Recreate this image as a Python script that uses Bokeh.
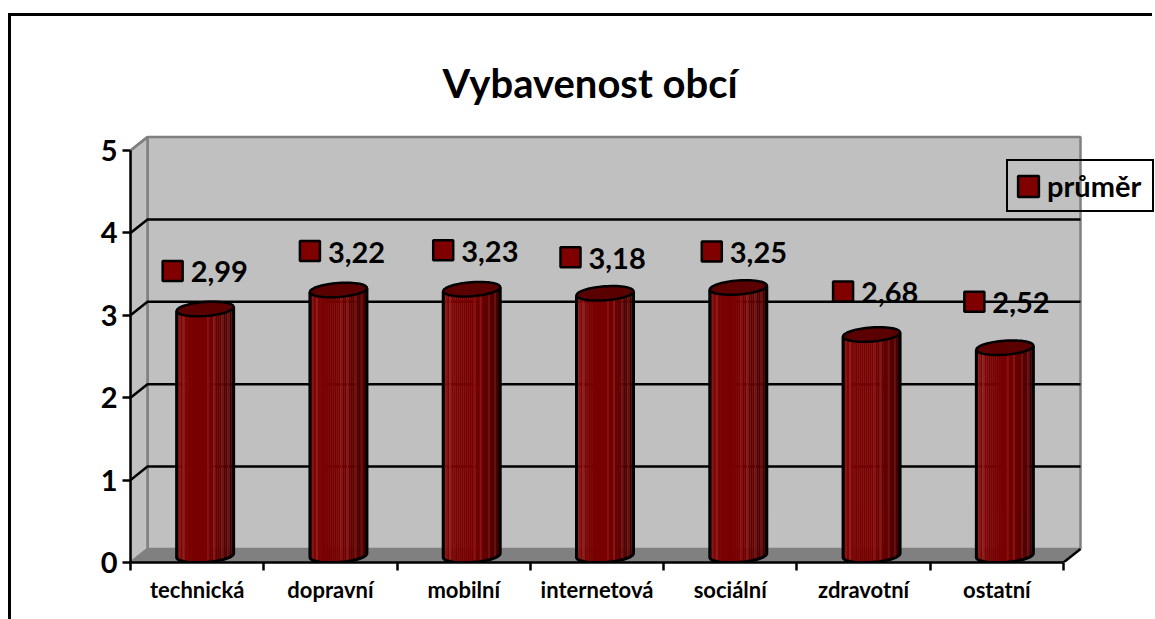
import numpy as np
from bokeh.embed import file_html
from bokeh.resources import INLINE
from bokeh.plotting import figure
from bokeh.models import (ColumnDataSource, FixedTicker, Range1d, Title, Legend, LegendItem)
from bokeh.core.properties import value

categories = ["technická", "dopravní", "mobilní", "internetová", "sociální", "zdravotní", "ostatní"]
prumer = [2.99, 3.22, 3.23, 3.18, 3.25, 2.68, 2.52]
value_labels = ["2,99", "3,22", "3,23", "3,18", "3,25", "2,68", "2,52"]
y_ticks = [0, 1, 2, 3, 4, 5]
series_name = "průměr"
chart_title = "Vybavenost obcí"

# manual data-label offsets from the cylinder top, in pixels
label_dx = [-33, -29, -29, -35, -27, -29, -31]
label_dy = [38, 39, 39, 36, 36, 43, 46]

# layout (pixels)
FRAME_L, FRAME_R, FRAME_T, FRAME_B = 130, 1155, 130, 562
PX_CAT = 933 / 7
PX_UNIT = 82.4
DEPTH_X, DEPTH_Y = 17, 13.5
HALF_W, HALF_H, TILT = 28.5, 7, 2

dx = DEPTH_X / PX_CAT
dy = DEPTH_Y / PX_UNIT
hw = HALF_W / PX_CAT
hh = HALF_H / PX_UNIT
tilt = TILT / PX_UNIT
n = len(categories)
ymax = y_ticks[-1]

p = figure(
    width=1144, height=606, output_backend="svg", toolbar_location=None,
    x_range=Range1d(0, (FRAME_R - FRAME_L) / PX_CAT),
    y_range=Range1d(0, (FRAME_B - FRAME_T) / PX_UNIT),
    min_border_left=119, min_border_right=0, min_border_bottom=60, min_border_top=114,
    outline_line_color=None, background_fill_color=None, border_fill_color=None,
    x_axis_type="linear", y_axis_type="linear",
    styles={"border-top": "3px solid #000", "border-left": "3px solid #000",
            "margin-top": "13px", "margin-left": "8px"},
)
p.grid.visible = False

p.title = Title(text=chart_title, align="left", offset=312, standoff=47,
                text_font="Lato", text_font_size="40px", text_font_style="bold", text_color="#000000")

# walls and floor
WALL, FLOOR, EDGE = "#C0C0C0", "#808080", "#808080"
p.patch([dx, n + dx, n + dx, dx], [dy + ymax, dy + ymax, dy, dy], fill_color=WALL, line_color=EDGE, line_width=2.5)
p.patch([0, dx, dx, 0], [0, dy, dy + ymax, ymax], fill_color=WALL, line_color=EDGE, line_width=2.5)
p.patch([0, dx, n + dx, n], [0, dy, dy, 0], fill_color=FLOOR, line_color=EDGE, line_width=1)

# gridlines: diagonal on the side wall then along the back wall
inner = [t for t in y_ticks if 0 < t < ymax]
p.multi_line([[0, dx, n + dx] for _ in inner], [[t, t + dy, t + dy] for t in inner],
             line_color="#000000", line_width=2.5)
p.line([n, n + dx], [0, dy], line_color="#000000", line_width=2.5)
p.line([0, dx], [ymax, ymax + dy], line_color=EDGE, line_width=2.5)

# cylinders
stripes = ["#6a0000", "#8a1414", "#7c0606", "#941c1c", "#7a0505", "#7c0606", "#780000", "#7a0303",
           "#780000", "#780000", "#780000", "#780000", "#780000", "#780000", "#780000", "#8a1010",
           "#700000", "#6c0000", "#881414", "#680000", "#620000", "#5c0000", "#761010", "#540000",
           "#4e0000", "#6a1010", "#460000", "#400000"]
ns = len(stripes)
edges = np.linspace(-1, 1, ns + 1)
cu = (edges[:-1] + edges[1:]) / 2
sw = 2 * hw / ns

base = dy / 2 + 0.005
sx, sb, st, sc = [], [], [], []
out_x, out_y, top_x, top_y = [], [], [], []
theta = np.linspace(0, 2 * np.pi, 61)
for i, v in enumerate(prumer):
    cx = i + 0.5 + dx / 2 - 0.5 / PX_CAT
    topc = base + v
    for u, c in zip(cu, stripes):
        sx.append(cx + u * hw)
        sb.append(base - hh * np.sqrt(max(1 - u * u, 0)) + tilt * u)
        st.append(topc + tilt * u)
        sc.append(c)
    a = np.linspace(np.pi, 2 * np.pi, 31)
    ox = np.cos(a)
    oy = np.sin(a)
    out_x.append(list(cx + hw * np.r_[-1, ox, 1]))
    out_y.append(list(np.r_[topc - tilt, base + hh * oy + tilt * ox, topc + tilt]))
    top_x.append(list(cx + hw * np.cos(theta)))
    top_y.append(list(topc + hh * np.sin(theta) + tilt * np.cos(theta)))

p.vbar(x=sx, bottom=sb, top=st, width=sw * 1.15, fill_color=sc, line_color=None)
p.multi_line(out_x, out_y, line_color="#000000", line_width=3)
p.patches(top_x, top_y, fill_color="#5a0000", line_color="#000000", line_width=2.5)

# data markers + labels
mx = [i + 0.5 + dx / 2 + d / PX_CAT for i, d in enumerate(label_dx)]
my = [base + v + d / PX_UNIT for v, d in zip(prumer, label_dy)]
src = ColumnDataSource(dict(x=mx, y=my, t=value_labels))
marks = p.rect("x", "y", width=20, height=20, width_units="screen", height_units="screen", source=src,
               fill_color="#800000", line_color="#000000", line_width=2.5)
p.text("x", "y", text="t", source=src, x_offset=18, y_offset=1, text_baseline="middle", text_align="left",
       text_font=value("Lato"), text_font_size="29px", text_font_style="bold", text_color="#000000")

# axes
xa = p.xaxis[0]
xa.bounds = (0, n)
xa.ticker = FixedTicker(ticks=[i + 0.5 for i in range(n)], minor_ticks=list(range(n + 1)))
xa.major_label_overrides = {i + 0.5: c for i, c in enumerate(categories)}
xa.major_tick_line_color = None
xa.minor_tick_line_color = "#000000"
xa.minor_tick_line_width = 2.5
xa.minor_tick_in = 0
xa.minor_tick_out = 8
xa.axis_line_color = "#000000"
xa.axis_line_width = 2.5
xa.major_label_standoff = 5
xa.major_label_text_font = "Lato"
xa.major_label_text_font_size = "22px"
xa.major_label_text_font_style = "bold"
xa.major_label_text_color = "#000000"

ya = p.yaxis[0]
ya.bounds = (0, ymax)
ya.ticker = FixedTicker(ticks=y_ticks)
ya.major_tick_in = 0
ya.major_tick_out = 8
ya.major_tick_line_width = 2.5
ya.major_tick_line_color = "#000000"
ya.minor_tick_line_color = None
ya.axis_line_color = "#000000"
ya.axis_line_width = 2.5
ya.major_label_standoff = 5
ya.major_label_text_font = "Lato"
ya.major_label_text_font_size = "29px"
ya.major_label_text_font_style = "bold"
ya.major_label_text_color = "#000000"

legend = Legend(items=[LegendItem(label=series_name, renderers=[marks])],
                location=(876, 350), orientation="vertical", margin=0, padding=7,
                glyph_width=26, glyph_height=26, label_standoff=6, label_width=98, label_height=34,
                background_fill_alpha=0, border_line_color="#000000", border_line_alpha=1, border_line_width=2.5,
                label_text_font="Lato", label_text_font_size="29px", label_text_font_style="bold",
                label_text_color="#000000", label_text_baseline="middle")
p.add_layout(legend, "center")

open("out.html", "w").write(file_html(p, INLINE))
